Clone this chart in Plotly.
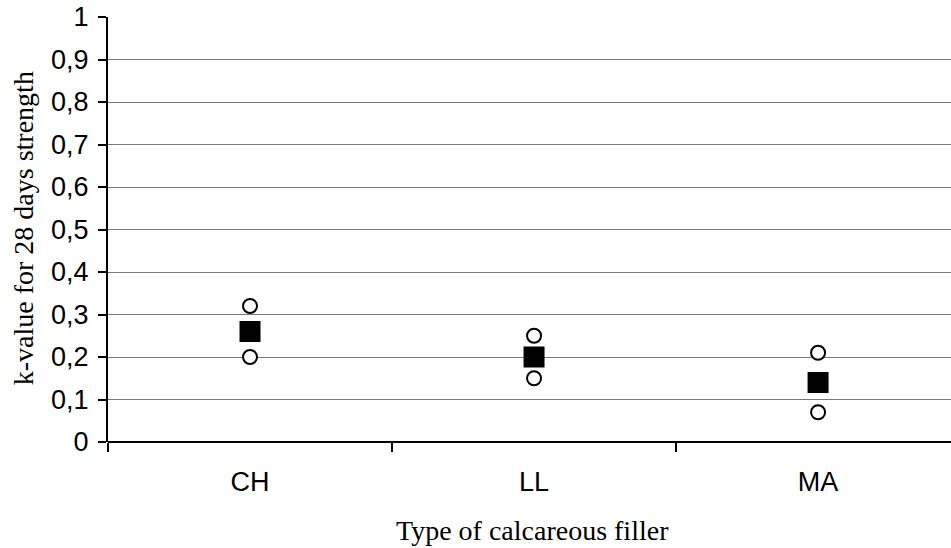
import plotly.graph_objects as go

# Filler categories and their k-values at 28 days
fillers = ["CH", "LL", "MA"]
k_mean = [0.26, 0.20, 0.14]
k_high = [0.32, 0.25, 0.21]
k_low = [0.20, 0.15, 0.07]

y_ticks = [0, 0.1, 0.2, 0.3, 0.4, 0.5, 0.6, 0.7, 0.8, 0.9, 1.0]
y_tick_text = ["0", "0,1", "0,2", "0,3", "0,4", "0,5", "0,6", "0,7", "0,8", "0,9", "1"]

pos = list(range(len(fillers)))

fig = go.Figure()

# Range bounds (open circles)
for vals in (k_high, k_low):
    fig.add_trace(go.Scatter(
        x=pos, y=vals, mode="markers",
        marker=dict(symbol="circle", size=14, color="white",
                    line=dict(color="black", width=2)),
        showlegend=False, hoverinfo="skip",
    ))

# Mean values (filled squares)
fig.add_trace(go.Scatter(
    x=pos, y=k_mean, mode="markers",
    marker=dict(symbol="square", size=21, color="black",
                line=dict(color="black", width=0)),
    showlegend=False,
))

sans = "Liberation Sans, Arial, sans-serif"
serif = "Liberation Serif, Times New Roman, serif"

fig.update_layout(
    width=951, height=548,
    margin=dict(l=108, r=0, t=17, b=106),
    paper_bgcolor="white", plot_bgcolor="white",
    font=dict(family=sans, color="black"),
    xaxis=dict(
        range=[-0.5, 2.468],
        tickvals=pos, ticktext=fillers,
        ticks="", showgrid=False, zeroline=False,
        showline=False,
        tickfont=dict(size=27, family=sans),
        ticklabelstandoff=21,
        minor=dict(tick0=0.5, dtick=1, ticks="outside", ticklen=9,
                   tickwidth=2, tickcolor="black", showgrid=False),
    ),
    yaxis=dict(
        range=[0, 1],
        tickvals=y_ticks, ticktext=y_tick_text,
        ticks="outside", ticklen=8, tickwidth=2, tickcolor="black",
        showline=True, linecolor="black", linewidth=2,
        showgrid=True, gridcolor="#7a7a7a", gridwidth=1,
        zeroline=True, zerolinecolor="black", zerolinewidth=2,
        tickfont=dict(size=27, family=sans),
        ticklabelstandoff=4,
    ),
    annotations=[
        dict(text="Type of calcareous filler", xref="paper", yref="paper",
             x=0.503, y=-0.209, xanchor="center", yanchor="middle",
             showarrow=False, font=dict(size=28, family=serif, color="black")),
        dict(text="k-value for 28 days strength", xref="paper", yref="paper",
             x=-0.1008, y=0.503, xanchor="center", yanchor="middle",
             textangle=-90, showarrow=False,
             font=dict(size=28, family=serif, color="black")),
    ],
)

fig.write_html("out.html")
